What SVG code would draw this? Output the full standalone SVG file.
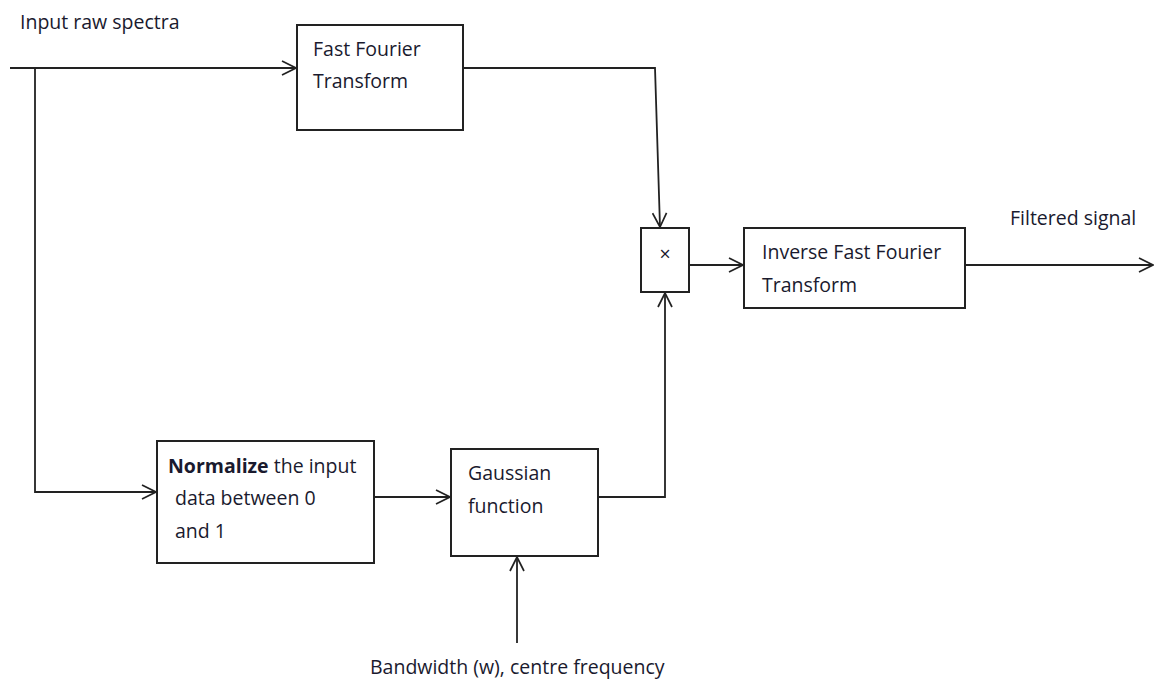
<svg xmlns="http://www.w3.org/2000/svg" width="1157" height="679" viewBox="0 0 1157 679">
<style>
.box{fill:#fff;stroke:#222;stroke-width:2}
.ln{fill:none;stroke:#222;stroke-width:1.8}
.t{font-family:"Open Sans","Liberation Sans",sans-serif;font-size:19.5px;fill:#1a1a2e}
.b{font-weight:bold}
</style>
<defs>
<marker id="arr" viewBox="0 0 16 16" refX="15" refY="8" markerWidth="16" markerHeight="16" markerUnits="userSpaceOnUse" orient="auto">
<polyline points="1,1 15,8 1,15" fill="none" stroke="#222" stroke-width="1.7"/>
</marker>
</defs>
<rect width="1157" height="679" fill="#fff"/>
<g id="connectors">
<line class="ln" x1="10" y1="68" x2="296" y2="68" marker-end="url(#arr)"/>
<polyline class="ln" points="35,68 35,492 156,492" marker-end="url(#arr)"/>
<polyline class="ln" points="463,68 655,68 660,227" marker-end="url(#arr)"/>
<line class="ln" x1="374" y1="497" x2="450" y2="497" marker-end="url(#arr)"/>
<polyline class="ln" points="598,497 665,497 665,293" marker-end="url(#arr)"/>
<line class="ln" x1="689" y1="265" x2="743" y2="265" marker-end="url(#arr)"/>
<line class="ln" x1="965" y1="265" x2="1153" y2="265" marker-end="url(#arr)"/>
<line class="ln" x1="517" y1="643" x2="517" y2="557" marker-end="url(#arr)"/>
</g>
<g id="label-input"><text class="t" x="20" y="29">Input raw spectra</text></g>
<g id="fft">
<rect class="box" x="297" y="25" width="166" height="105"/>
<text class="t" x="313" y="56">Fast Fourier</text>
<text class="t" x="313" y="88">Transform</text>
</g>
<g id="mult">
<rect class="box" x="641" y="228" width="48" height="64"/>
<text class="t" x="665" y="261" text-anchor="middle" font-size="17">×</text>
</g>
<g id="ifft">
<rect class="box" x="744" y="228" width="221" height="80"/>
<text class="t" x="762" y="259">Inverse Fast Fourier</text>
<text class="t" x="762" y="292">Transform</text>
</g>
<g id="label-output"><text class="t" x="1010" y="225">Filtered signal</text></g>
<g id="normalize">
<rect class="box" x="157" y="441" width="217" height="122"/>
<text class="t" x="168" y="473"><tspan class="b">Normalize</tspan> the input</text>
<text class="t" x="175" y="505">data between 0</text>
<text class="t" x="175" y="538">and 1</text>
</g>
<g id="gaussian">
<rect class="box" x="451" y="449" width="147" height="107"/>
<text class="t" x="468" y="480">Gaussian</text>
<text class="t" x="468" y="513">function</text>
</g>
<g id="label-bandwidth"><text class="t" x="370" y="674">Bandwidth (w), centre frequency</text></g>
</svg>
